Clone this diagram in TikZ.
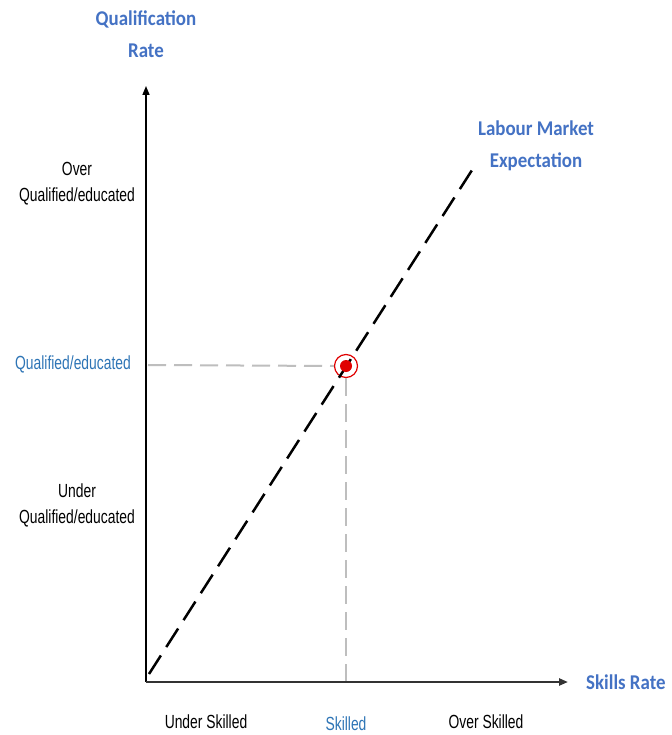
\documentclass[tikz,border=0pt]{standalone}
\usepackage{fontspec}
\setmainfont{Liberation Sans}[FakeStretch=0.73]
\newfontfamily\headfont{Carlito}[FakeStretch=0.9]
\usetikzlibrary{arrows.meta}
\definecolor{headblue}{RGB}{68,114,196}
\definecolor{lblblue}{RGB}{46,117,182}
\definecolor{dotred}{RGB}{224,0,0}
\definecolor{guidegrey}{RGB}{190,190,190}
\tikzset{
  head/.style={font=\headfont\bfseries\fontsize{21}{32}\selectfont, text=headblue, align=center, inner sep=0pt},
  lbl/.style={font=\fontsize{19}{26}\selectfont, align=center, inner sep=0pt},
  axisline/.style={line width=1.6pt, -{Triangle[length=9pt,width=7pt]}},
  guide/.style={guidegrey, line width=2pt, dash pattern=on 18pt off 8pt},
  trend/.style={black, line width=2.5pt, dash pattern=on 22pt off 10pt},
}
\begin{document}
\begin{tikzpicture}[x=1pt,y=-1pt]
\useasboundingbox[fill=white] (0,0) rectangle (671,735);
\coordinate (O) at (146,682);
\coordinate (ytip) at (146,86);
\coordinate (xtip) at (568,682);
\coordinate (dstart) at (149,674);
\coordinate (dend) at (474,167);
\coordinate (hstart) at (148,365);
\coordinate (vend) at (346,681);
\node[circle, draw=dotred, line width=1.2pt, minimum size=23pt, inner sep=0pt] (ring) at (346,366) {};
% guides
\draw[guide] (hstart) -- (ring.west);
\draw[guide] (ring.south) -- (vend);
% trend
\draw[trend] (dstart) -- (dend);
\node[circle, fill=dotred, minimum size=12pt, inner sep=0pt] (pt) at (346,366) {};
% axes
\draw[axisline] (O) -- (ytip);
\draw[axisline, line width=2.4pt, draw=black!80] (O) -- (xtip);
% labels
\node[head] (qr) at (146,34) {Qualification\\Rate};
\node[head] (lme) at (536,146) {Labour Market\\Expectation};
\node[head, anchor=west] (sr) at (586,682) {Skills Rate};
\node[lbl] (oq) at (77,184) {Over\\Qualified/educated};
\node[lbl, text=lblblue] (q) at (73,364) {Qualified/educated};
\node[lbl] (uq) at (77,505) {Under\\Qualified/educated};
\node[lbl] (us) at (206,722) {Under Skilled};
\node[lbl, text=lblblue] (sk) at (346,724) {Skilled};
\node[lbl] (os) at (486,722) {Over Skilled};
\end{tikzpicture}
\end{document}
